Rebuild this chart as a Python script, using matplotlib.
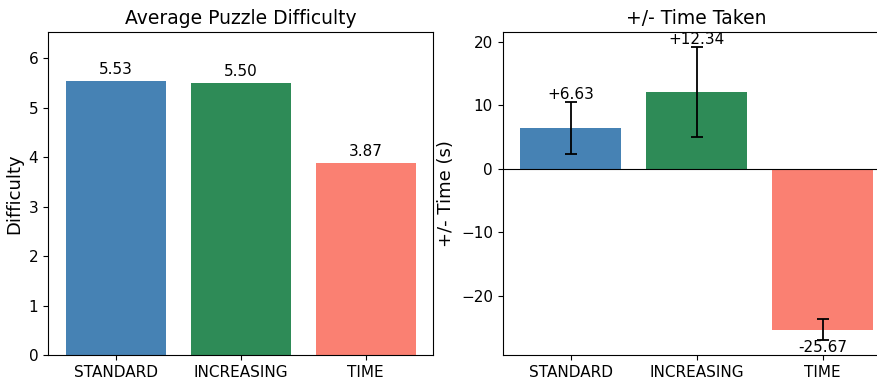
import matplotlib
matplotlib.use("Agg")
import matplotlib.pyplot as plt

modes = ["STANDARD", "INCREASING", "TIME"]
colors = ["steelblue", "seagreen", "salmon"]

difficulty = [5.53, 5.50, 3.87]

time_delta = [6.45, 12.15, -25.40]
time_err = [4.10, 7.10, 1.65]
time_labels = ["+6.63", "+12.34", "-25.67"]

fig = plt.figure(figsize=(8.78, 3.81), dpi=100)
ax1 = fig.add_axes([0.0547, 0.068, 0.4385, 0.848])
# right panel runs slightly past the figure edge, as in the original
ax2 = fig.add_axes([0.5725, 0.068, 0.442, 0.848])

# left: average difficulty
bars = ax1.bar(modes, difficulty, color=colors)
ax1.bar_label(bars, labels=[f"{d:.2f}" for d in difficulty], padding=3, fontsize=11)
ax1.set_ylim(0, max(difficulty) * 1.18)
ax1.set_title("Average Puzzle Difficulty", fontsize=13.5)
ax1.set_ylabel("Difficulty", fontsize=13)
ax1.tick_params(labelsize=11)

# right: time taken vs baseline
ax2.bar(modes, time_delta, color=colors, yerr=time_err, capsize=4,
        error_kw={"ecolor": "black", "elinewidth": 1.3, "capthick": 1.3})
ax2.axhline(0, color="black", linewidth=0.8)
for i, (v, e, lab) in enumerate(zip(time_delta, time_err, time_labels)):
    if v >= 0:
        ax2.text(i, v + e, lab, ha="center", va="bottom", fontsize=11)
    else:
        ax2.text(i, v - e, lab, ha="center", va="top", fontsize=11)
ax2.set_title("+/- Time Taken", fontsize=13.5)
ax2.set_ylabel("+/- Time (s)", fontsize=13)
ax2.tick_params(labelsize=11)

fig.savefig("out.png", dpi=100)
